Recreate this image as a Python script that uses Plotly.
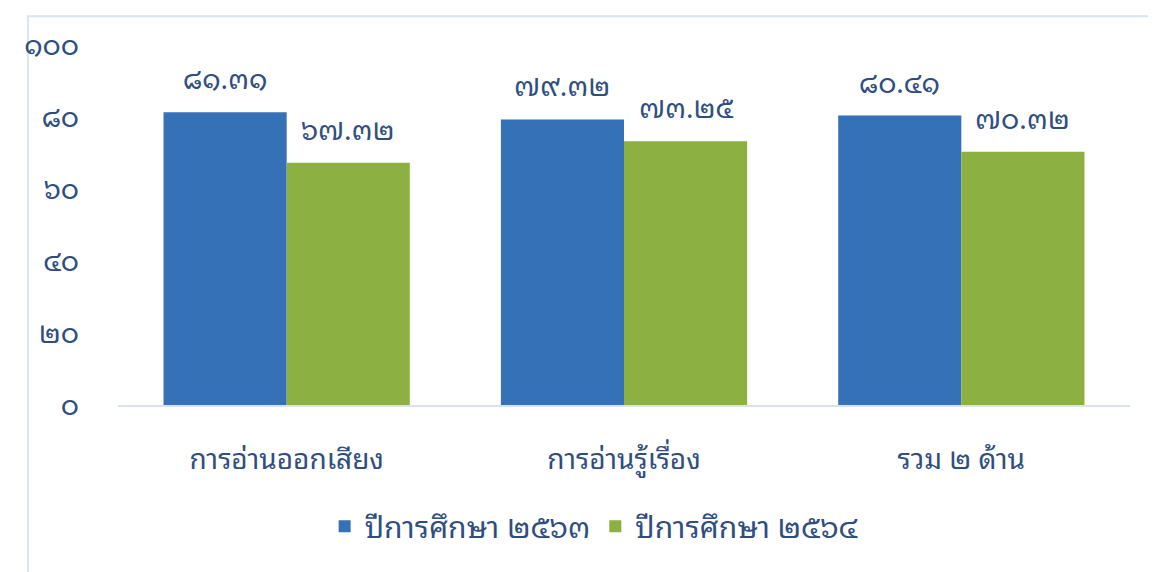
import plotly.graph_objects as go

categories = ["การอ่านออกเสียง", "การอ่านรู้เรื่อง", "รวม ๒ ด้าน"]
series_names = ["ปีการศึกษา ๒๕๖๓", "ปีการศึกษา ๒๕๖๔"]
values_2563 = [81.31, 79.32, 80.41]
values_2564 = [67.32, 73.25, 70.32]
labels_2563 = ["๘๑.๓๑", "๗๙.๓๒", "๘๐.๔๑"]
labels_2564 = ["๖๗.๓๒", "๗๓.๒๕", "๗๐.๓๒"]
tick_vals = [0, 20, 40, 60, 80, 100]
tick_text = ["๐", "๒๐", "๔๐", "๖๐", "๘๐", "๑๐๐"]

FONT = "Noto Sans Thai Looped, Noto Sans Thai, Tahoma, Noto Sans, DejaVu Sans, sans-serif"
TXT = "#2F4E7F"
BARGAP = 0.27

fig = go.Figure()
fig.add_trace(go.Bar(
    x=list(range(len(categories))), y=values_2563, name=series_names[0],
    marker=dict(color="#3471B6", line=dict(width=0)),
))
fig.add_trace(go.Bar(
    x=list(range(len(categories))), y=values_2564, name=series_names[1],
    marker=dict(color="#8CB041", line=dict(width=0)),
))

# data labels placed above each bar of the group
off = (1 - BARGAP) / 4
for i in range(len(categories)):
    for v, t, dx in ((values_2563[i], labels_2563[i], -off), (values_2564[i], labels_2564[i], off)):
        fig.add_annotation(x=i + dx, y=v, text=t, showarrow=False,
                           yanchor="bottom", yshift=11,
                           font=dict(size=28, color=TXT, family=FONT))

fig.update_layout(
    width=1156, height=572,
    margin=dict(l=110, r=34, t=35, b=175),
    paper_bgcolor="white", plot_bgcolor="white",
    barmode="group", bargap=BARGAP, bargroupgap=0,
    font=dict(family=FONT, color=TXT),
    showlegend=True,
    legend=dict(orientation="h", x=0.47, xanchor="center", y=-0.337, yanchor="middle",
                font=dict(size=30, color=TXT, family=FONT), itemwidth=30,
                traceorder="normal"),
)
fig.update_xaxes(
    tickvals=list(range(len(categories))), ticktext=categories,
    range=[-0.5, len(categories) - 0.5],
    showgrid=False, showline=True, linecolor="#D9E3F0", linewidth=2,
    zeroline=False,
    ticks="", tickfont=dict(size=28, color=TXT, family=FONT),
    ticklabelstandoff=28,
)
fig.update_yaxes(
    range=[0, 100], tickvals=tick_vals, ticktext=tick_text,
    showgrid=False, zeroline=False, showline=False,
    tickfont=dict(size=28, color=TXT, family=FONT), ticks="",
    ticklabelstandoff=38,
)
fig.add_shape(type="rect", xref="paper", yref="paper",
              x0=-0.089, x1=1.04, y0=-0.48, y1=1.08,
              line=dict(color="#D6E4F5", width=2), fillcolor="rgba(0,0,0,0)",
              layer="below")

fig.write_html("out.html")
